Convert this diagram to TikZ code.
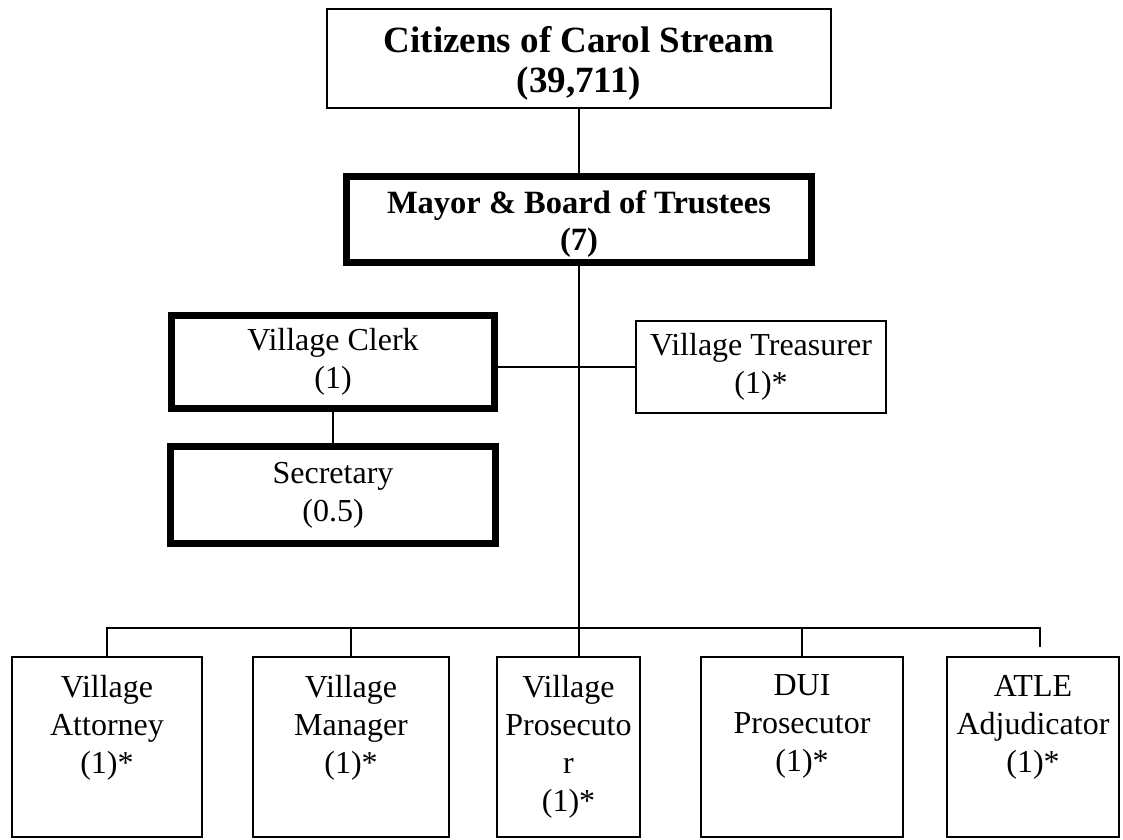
\documentclass[tikz,border=0pt]{standalone}
\usepackage{fontspec}
\setmainfont{Liberation Serif}
\usetikzlibrary{positioning}

\tikzstyle{block} = [draw, fill=white, rectangle, line width=1.8pt, align=center,
    inner xsep=0pt, font=\fontsize{32}{38}\selectfont]
\tikzstyle{heavy} = [block, line width=7pt]
\tikzstyle{staff} = [block, anchor=north, inner ysep=18pt]
\tikzstyle{output} = [coordinate]
\tikzstyle{link} = [line width=1.8pt]

% text of the lower boxes starts at the top
\newcommand{\toptext}[2]{\parbox[c][144pt][t]{#1}{\centering #2}}

\begin{document}
\begin{tikzpicture}[x=1pt, y=-1pt, node distance=2cm, >=latex]
\useasboundingbox (0,0) rectangle (1123,839);

    % We start by placing the blocks
    \node [block, font=\fontsize{37}{40}\selectfont\bfseries,
        minimum width=504pt, minimum height=99pt] (citizens) at (579,58.5)
        {\rule{0pt}{36pt}Citizens of Carol Stream\\(39,711)};
    \node [heavy, font=\fontsize{32.5}{37}\selectfont\bfseries,
        minimum width=465pt, minimum height=86pt] (mayor) at (579,219.5)
        {\rule{0pt}{32pt}Mayor \& Board of Trustees\\(7)};
    \node [heavy, minimum width=323pt, minimum height=93pt] (clerk) at (333,362)
        {Village Clerk\\(1)};
    \node [block, minimum width=250pt, minimum height=92pt] (treasurer) at (761,367)
        {Village Treasurer\\(1)*};
    \node [heavy, minimum width=325pt, minimum height=97pt] (secretary) at (333,495)
        {Secretary\\(0.5)};

    \node [staff] (attorney) at (107,656) {\toptext{190pt}{Village\\Attorney\\(1)*}};
    \node [staff] (manager) at (351,656) {\toptext{196pt}{Village\\Manager\\(1)*}};
    \node [staff] (prosecutor) at (568.5,656) {\toptext{143pt}{Village\\Prosecuto\\r\\(1)*}};
    \node [staff] (dui) at (802,656) {\toptext{202pt}{DUI\\Prosecutor\\(1)*}};
    \node [staff] (atle) at (1033,656) {\toptext{172pt}{ATLE\\Adjudicator\\(1)*}};

    \node [output] (busend) at (1040,628) {};
    \node [output] (atletick) at (1040,647) {};

    % Once the nodes are placed, connecting them is easy.
    \draw [link] (citizens) -- (mayor);
    \draw [link] (mayor.south) -- (mayor.south |- prosecutor.north);
    \draw [link] (clerk.east |- treasurer.west) -- (treasurer.west);
    \draw [link] (clerk) -- (secretary);
    \draw [link] (attorney.north) |- (busend) -- (atletick);
    \draw [link] (manager.north) -- (manager.north |- busend);
    \draw [link] (dui.north) -- (dui.north |- busend);

\end{tikzpicture}
\end{document}
